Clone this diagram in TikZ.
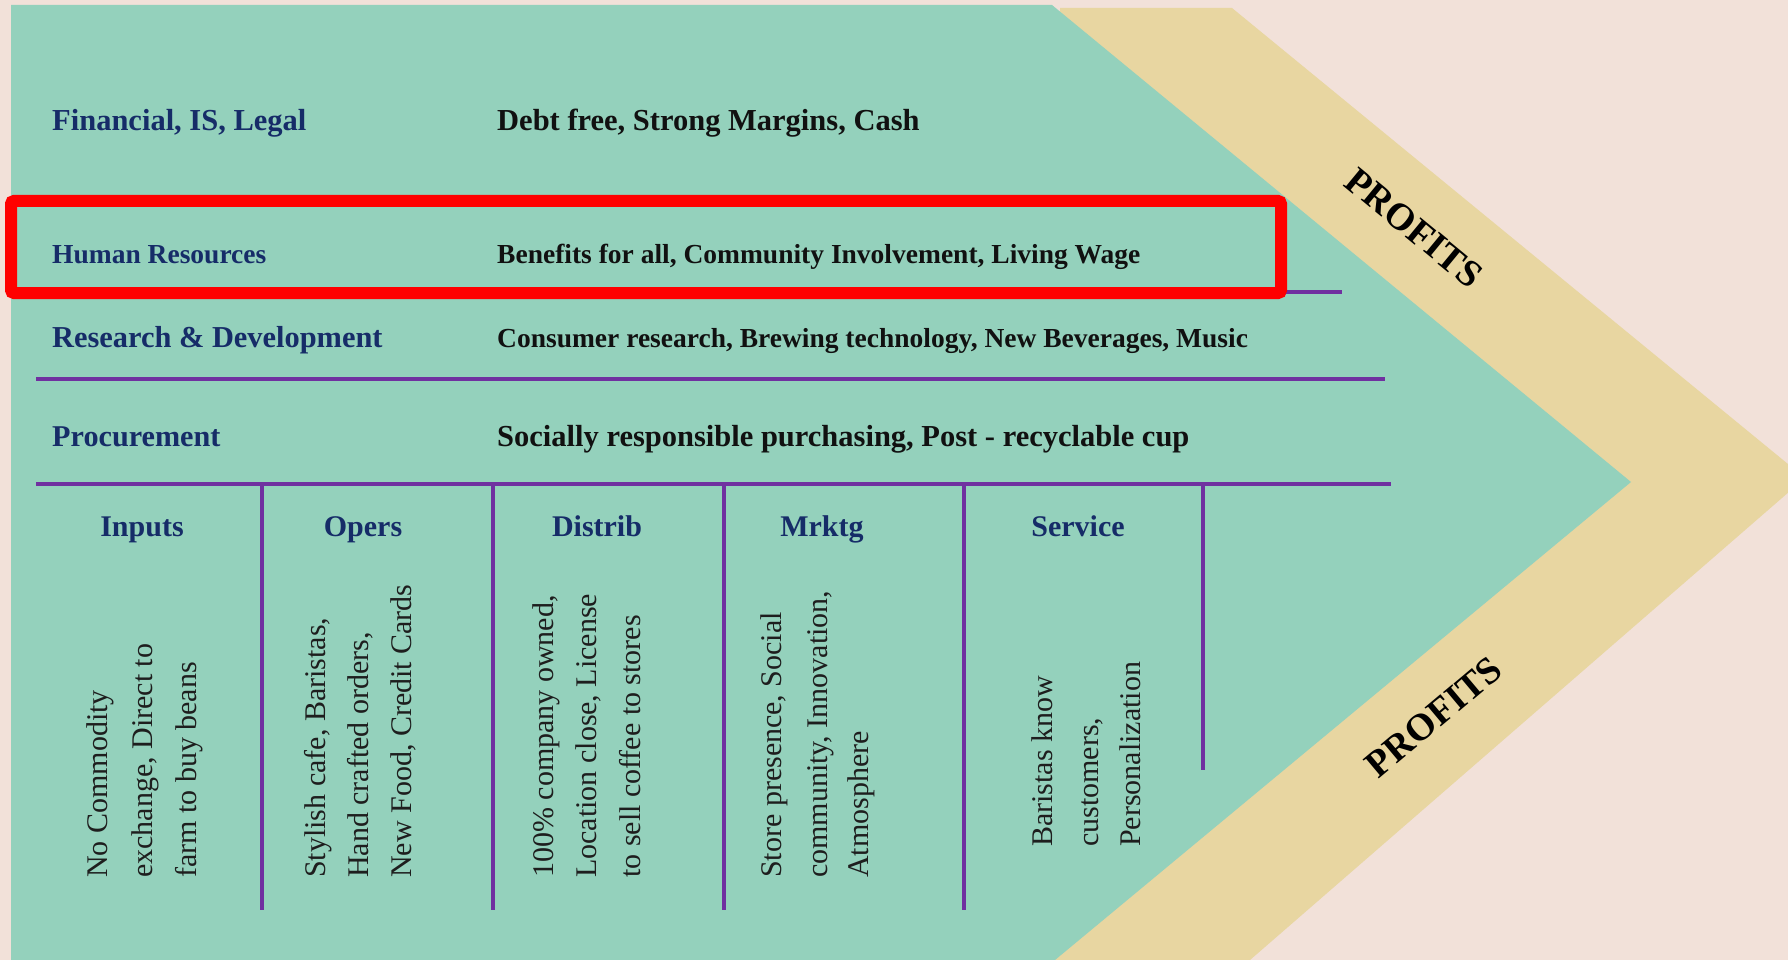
\documentclass[tikz,border=0pt]{standalone}
\usepackage{fontspec}
\setmainfont{Liberation Serif}
\definecolor{peach}{RGB}{242,225,217}
\definecolor{mint}{RGB}{148,209,188}
\definecolor{sand}{RGB}{232,214,161}
\definecolor{vpurple}{RGB}{112,48,160}
\definecolor{navy}{RGB}{22,44,104}
\definecolor{ink}{RGB}{17,17,17}
\definecolor{vink}{RGB}{30,30,30}
\newcommand\myfs[1]{\fontsize{#1}{#1}\selectfont}
\begin{document}
\begin{tikzpicture}[x=1pt,y=-1pt,
  lbl/.style={anchor=base west, inner sep=0pt, text=navy},
  cnt/.style={anchor=base west, inner sep=0pt, text=ink},
  hdr/.style={anchor=base, inner sep=0pt, text=navy, font=\bfseries\myfs{30}},
  vtxt/.style={rotate=90, anchor=base west, inner sep=0pt, text=vink, font=\myfs{30}},
  pline/.style={draw=vpurple, line width=4pt},
  profit/.style={inner sep=0pt, text=black, font=\bfseries\myfs{38}},
  redbox/.style={draw=red, line width=12pt, rounded corners=3pt}]
\path[use as bounding box] (0,0) rectangle (1788,960);
\clip (0,0) rectangle (1788,960);
% background
\fill[peach] (0,0) rectangle (1788,960);
% chevron band
\fill[sand] (1060,8) -- (1232,8) -- (1805,478) -- (1250,960) -- (1055,960) -- cycle;
% main arrow body
\fill[mint] (11,5) -- (1052,5) -- (1631,482) -- (1055,960) -- (11,960) -- cycle;
% row labels and contents
\node[lbl, font=\bfseries\myfs{30.5}] (fin) at (52,131) {Financial, IS, Legal};
\node[cnt, font=\bfseries\myfs{30.5}] (finc) at (497,131) {Debt free, Strong Margins, Cash};
\node[lbl, font=\bfseries\myfs{27.5}] (hr) at (52,263) {Human Resources};
\node[cnt, font=\bfseries\myfs{27.5}] (hrc) at (497,263) {Benefits for all, Community Involvement, Living Wage};
\node[lbl, font=\bfseries\myfs{30.4}] (rd) at (52,347) {Research \& Development};
\node[cnt, font=\bfseries\myfs{27.5}] (rdc) at (497,347) {Consumer research, Brewing technology, New Beverages, Music};
\node[lbl, font=\bfseries\myfs{30.2}] (pr) at (52,446) {Procurement};
\node[cnt, font=\bfseries\myfs{30.5}] (prc) at (497,446) {Socially responsible purchasing, Post - recyclable cup};
% horizontal dividers
\coordinate (l1a) at (36,292); \coordinate (l1b) at (1342,292);
\coordinate (l2a) at (36,379); \coordinate (l2b) at (1385,379);
\coordinate (l3a) at (36,484); \coordinate (l3b) at (1391,484);
\draw[pline] (l1a) -- (l1b);
\draw[pline] (l2a) -- (l2b);
\draw[pline] (l3a) -- (l3b);
% vertical dividers
\foreach \xx/\yy [count=\i] in {262/910, 493/910, 724/910, 964/910, 1203/770} {
  \coordinate (vt\i) at (\xx,484);
  \coordinate (vb\i) at (\xx,\yy);
  \draw[pline] (vt\i) -- (vb\i);
}
% highlight box
\draw[redbox] (11,201) rectangle (1281,293);
% column headers
\node[hdr] (hin) at (142,536) {Inputs};
\node[hdr] (hop) at (363,536) {Opers};
\node[hdr] (hdi) at (597,536) {Distrib};
\node[hdr] (hmk) at (822,536) {Mrktg};
\node[hdr] (hse) at (1078,536) {Service};
% vertical column texts
\node[vtxt] (in1) at (107,878) {No Commodity};
\node[vtxt] (in2) at (152,878) {exchange, Direct to};
\node[vtxt] (in3) at (196,878) {farm to buy beans};
\node[vtxt] (op1) at (325,878) {Stylish cafe, Baristas,};
\node[vtxt] (op2) at (368,878) {Hand crafted orders,};
\node[vtxt] (op3) at (411,878) {New Food, Credit Cards};
\node[vtxt] (di1) at (553,878) {100\% company owned,};
\node[vtxt] (di2) at (596,878) {Location close, License};
\node[vtxt] (di3) at (640,878) {to sell coffee to stores};
\node[vtxt] (mk1) at (781,878) {Store presence, Social};
\node[vtxt] (mk2) at (827,878) {community, Innovation,};
\node[vtxt] (mk3) at (868,878) {Atmosphere};
\node[vtxt] (se1) at (1052,847) {Baristas know};
\node[vtxt] (se2) at (1098,847) {customers,};
\node[vtxt] (se3) at (1140,847) {Personalization};
% profits labels
\node[profit, rotate=-39.5] (ptop) at (1414,228) {PROFITS};
\node[profit, rotate=40] (pbot) at (1434,717) {PROFITS};
\end{tikzpicture}
\end{document}
